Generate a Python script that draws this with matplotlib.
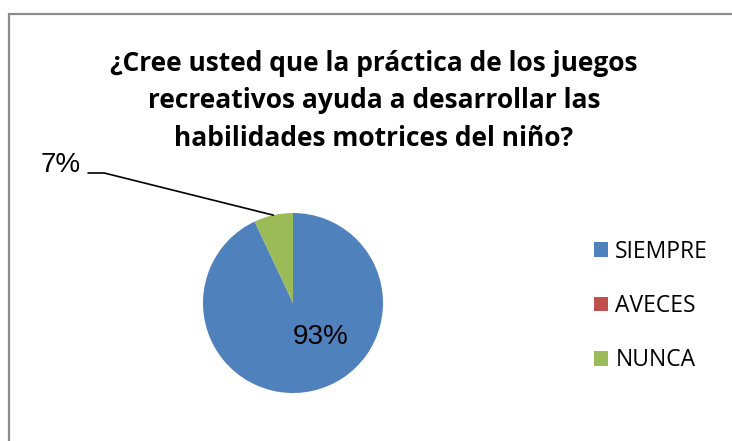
import numpy as np
import matplotlib
matplotlib.use("Agg")
import matplotlib.pyplot as plt
from matplotlib.patches import Rectangle

# Survey answers (percent of respondents)
categories = ["SIEMPRE", "AVECES", "NUNCA"]
values = [93, 0, 7]
colors = ["#4F81BD", "#C0504D", "#9BBB59"]
title = ("¿Cree usted que la práctica de los juegos\n"
         "recreativos ayuda a desarrollar las\n"
         "habilidades motrices del niño?")

W, H = 732, 441
fig = plt.figure(figsize=(W / 100, H / 100), dpi=100)
fig.patch.set_facecolor("white")

def fx(px):
    return px / W

def fy(py):
    return 1 - py / H

# chart frame (runs past the right and bottom edges)
fig.patches.append(Rectangle((fx(9), fy(460)), fx(760) - fx(9), fy(14) - fy(460),
                             transform=fig.transFigure, fill=False,
                             edgecolor="#8C8C8C", linewidth=1.6))

fig.text(fx(374), fy(101), title, fontsize=19, fontweight="bold",
         family="Open Sans", ha="center", va="center", linespacing=1.5)

# pie
cx, cy, r = 293, 303, 90
ax = fig.add_axes([fx(cx - r), fy(cy + r), 2 * r / W, 2 * r / H])
wedges, _ = ax.pie(values, colors=colors, startangle=90, counterclock=False,
                   radius=1.0, wedgeprops=dict(linewidth=0))
ax.set_xlim(-1, 1)
ax.set_ylim(-1, 1)
ax.set_aspect("equal")
ax.axis("off")

total = sum(values)

def pct(v):
    return f"{round(100 * v / total):d}%"

# inside label for the big slice
ang = np.deg2rad(-51)
ax.text(0.48 * np.cos(ang), 0.48 * np.sin(ang), pct(values[0]), fontsize=20,
        family="Liberation Sans", ha="center", va="center")

# outside label with a leader line for the small slice
w = wedges[2]
mid = np.deg2rad((w.theta1 + w.theta2) / 2)
p0 = (np.cos(mid), np.sin(mid))
ax.annotate("", xy=p0, xycoords="data",
            xytext=(fx(88), fy(173)), textcoords="figure fraction",
            arrowprops=dict(arrowstyle="-", color="black", lw=1.2,
                            shrinkA=0, shrinkB=0,
                            connectionstyle="angle,angleA=0,angleB=166,rad=0"),
            annotation_clip=False)
fig.text(fx(81), fy(165), pct(values[2]), fontsize=20,
         family="Liberation Sans", ha="right", va="center")

# legend
leg = fig.legend(wedges, categories, loc="center left",
                 bbox_to_anchor=(fx(585), fy(306)), frameon=False,
                 prop=dict(family="Open Sans", size=16.5),
                 handlelength=0.62, handleheight=0.62, handletextpad=0.3,
                 labelspacing=1.33, borderaxespad=0)

fig.savefig("out.png", dpi=100, facecolor="white")
